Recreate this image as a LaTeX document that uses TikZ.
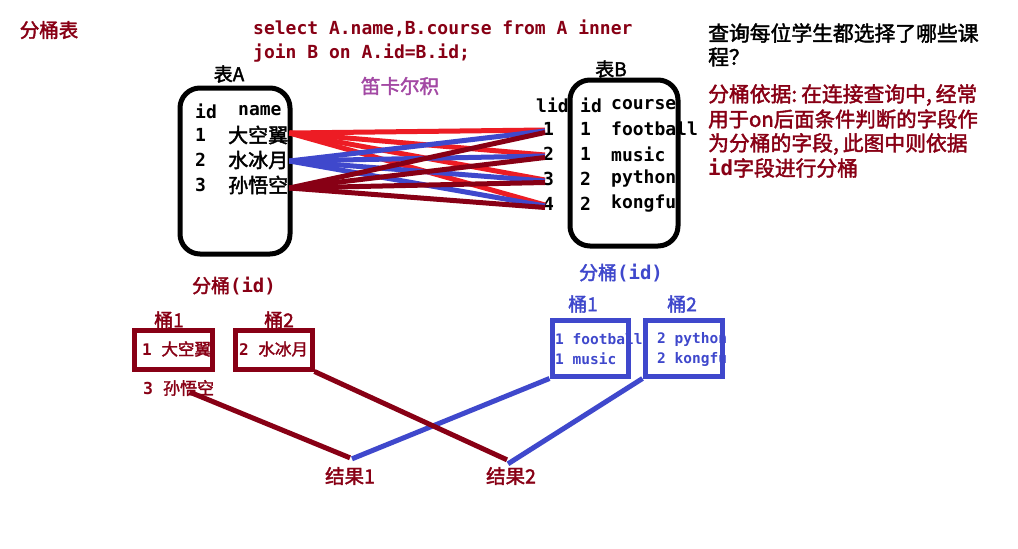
\documentclass[tikz,border=0pt]{standalone}
\usepackage{fontspec}
\usetikzlibrary{calc}
\newfontfamily\cjk{Noto Sans CJK SC}[FakeBold=2]
\newfontfamily\mono{DejaVu Sans Mono}
\definecolor{pdr}{HTML}{880015}
\definecolor{pred}{HTML}{ED1C24}
\definecolor{pblue}{HTML}{3F48CC}
\definecolor{ppur}{HTML}{A349A4}
\newcommand\zhf[1]{\cjk\fontsize{#1}{#1}\selectfont}
\newcommand\mof[1]{\mono\bfseries\fontsize{#1}{#1}\selectfont}
\newcommand\pp{\hspace{4pt}}
\tikzset{
  lt/.style={inner sep=0pt, anchor=west},
  ct/.style={inner sep=0pt},
  tbl/.style={draw=black, line width=5pt, rounded corners=20pt, inner sep=0pt},
  bkt/.style={draw, line width=5pt, inner sep=0pt},
  link/.style={line width=5pt},
}
\begin{document}
\begin{tikzpicture}[x=1pt,y=-1pt]
\fill[white] (0,0) rectangle (1018,549);
\useasboundingbox (0,0) rectangle (1018,549);

% titles and SQL
\node[ct, font=\zhf{19.5}, text=pdr] (ttl) at (49,30) {分桶表};
\node[lt, font=\mof{18}, text=pdr] (sql1) at (253,28) {select A.name,B.course from A inner};
\node[lt, font=\mof{18}, text=pdr] (sql2) at (253,53) {join B on A.id=B.id;};
\node[ct, font=\zhf{19}] (tA) at (229,74) {表A};
\node[ct, font=\zhf{19.5}, text=ppur] (cart) at (400,86) {笛卡尔积};
\node[ct, font=\zhf{19}] (tB) at (611,69) {表B};

% table A
\node[tbl, minimum width=110pt, minimum height=166pt] (boxA) at (235,171) {};
\node[lt, font=\mof{18}] (hAid) at (195,111) {id};
\node[lt, font=\mof{18}] (hAname) at (238,111) {name};
\node[lt, font=\mof{18}] (ia1) at (195,135) {1};
\node[lt, font=\zhf{20}] (a1) at (228,135) {大空翼};
\node[lt, font=\mof{18}] (ia2) at (195,160) {2};
\node[lt, font=\zhf{20}] (a2) at (228,160) {水冰月};
\node[lt, font=\mof{18}] (ia3) at (195,185) {3};
\node[lt, font=\zhf{20}] (a3) at (228,185) {孙悟空};

% table B
\node[tbl, minimum width=108pt, minimum height=166pt] (boxB) at (624,163) {};
\node[lt, font=\mof{18}] (hBl) at (536,105) {lid};
\node[lt, font=\mof{18}] (hBid) at (580,105) {id};
\node[lt, font=\mof{18}] (hBc) at (611,105) {course};
\node[lt, font=\mof{18}] (b1) at (543,129) {1};
\node[lt, font=\mof{18}] (ib1) at (580,129) {1};
\node[lt, font=\mof{18}] (cb1) at (611,129) {football};
\node[lt, font=\mof{18}] (b2) at (543,154) {2};
\node[lt, font=\mof{18}] (ib2) at (580,154) {1};
\node[lt, font=\mof{18}] (cb2) at (611,154) {music};
\node[lt, font=\mof{18}] (b3) at (543,179) {3};
\node[lt, font=\mof{18}] (ib3) at (580,179) {2};
\node[lt, font=\mof{18}] (cb3) at (611,179) {python};
\node[lt, font=\mof{18}] (b4) at (543,204) {4};
\node[lt, font=\mof{18}] (ib4) at (580,204) {2};
\node[lt, font=\mof{18}] (cb4) at (611,204) {kongfu};

% cartesian links
\foreach \j in {1,...,4}
  \draw[link, pred] ($(a1.east)+(1,-2)$) -- ($(b\j.west)+(2,1)$);
\foreach \j in {1,...,4}
  \draw[link, pblue] ($(a2.east)+(1,1)$) -- ($(b\j.west)+(2,2)$);
\foreach \j in {1,...,4}
  \draw[link, pdr] ($(a3.east)+(1,3)$) -- ($(b\j.west)+(2,3.5)$);

% right-hand text
\node[lt, font=\zhf{20.8}] (q1) at (708,33) {查询每位学生都选择了哪些课};
\node[lt, font=\zhf{20.8}] (q2) at (708,57) {程？};
\node[lt, font=\zhf{20.8}, text=pdr] (e1) at (708,95) {分桶依据:\pp 在连接查询中,\pp 经常};
\node[lt, font=\zhf{20.4}, text=pdr] (e2) at (708,119) {用于on后面条件判断的字段作};
\node[lt, font=\zhf{20.8}, text=pdr] (e3) at (708,144) {为分桶的字段,\pp 此图中则依据};
\node[lt, font=\zhf{20.8}, text=pdr] (e4) at (708,168) {{\mof{20.8}id}字段进行分桶};

% left buckets
\node[ct, font=\zhf{19}, text=pdr] (bl) at (234,286) {分桶{\mof{19}(id)}};
\node[ct, font=\zhf{19}, text=pdr] (lk1) at (169,320) {桶1};
\node[ct, font=\zhf{19}, text=pdr] (lk2) at (279,320) {桶2};
\node[bkt, draw=pdr, minimum width=78pt, minimum height=39pt] (lbox1) at (173,349.5) {};
\node[bkt, draw=pdr, minimum width=77pt, minimum height=39pt] (lbox2) at (273.5,349.5) {};
\node[lt, text=pdr] (lt1) at (142,349) {{\mof{16}1 }{\zhf{16.5}大空翼}};
\node[lt, text=pdr] (lt2) at (239,349) {{\mof{16}2 }{\zhf{16.5}水冰月}};
\node[lt, text=pdr] (lt3) at (143,388) {{\mof{16.5}3 }{\zhf{17}孙悟空}};

% right buckets
\node[ct, font=\zhf{19}, text=pblue] (br) at (621,273) {分桶{\mof{19}(id)}};
\node[ct, font=\zhf{19}, text=pblue] (rk1) at (583,304) {桶1};
\node[ct, font=\zhf{19}, text=pblue] (rk2) at (682,304) {桶2};
\node[bkt, draw=pblue, minimum width=76pt, minimum height=56pt] (rbox1) at (590,348) {};
\node[bkt, draw=pblue, minimum width=77pt, minimum height=56pt] (rbox2) at (683.5,348) {};
\node[lt, font=\mof{14.5}, text=pblue] (rt1) at (555,339) {1 football};
\node[lt, font=\mof{14.5}, text=pblue] (rt2) at (555,359) {1 music};
\node[lt, font=\mof{14.5}, text=pblue] (rt3) at (657,339) {2 python};
\node[lt, font=\mof{14.5}, text=pblue] (rt4) at (657,359) {2 kongfu};

% results
\node[ct, font=\zhf{19.5}, text=pdr] (res1) at (350,476) {结果1};
\node[ct, font=\zhf{19.5}, text=pdr] (res2) at (511,476) {结果2};

\draw[link, pblue] (rbox1.south west) -- ($(res1.north)+(2,-8)$);
\draw[link, pblue] (rbox2.south west) -- ($(res2.north)+(-3,-3)$);
\draw[link, pdr] ($(lt3.south)+(11,-4)$) -- ($(res1.north)+(0,-9)$);
\draw[link, pdr] (lbox2.south east) -- ($(res2.north)+(-4,-7)$);
\end{tikzpicture}
\end{document}
